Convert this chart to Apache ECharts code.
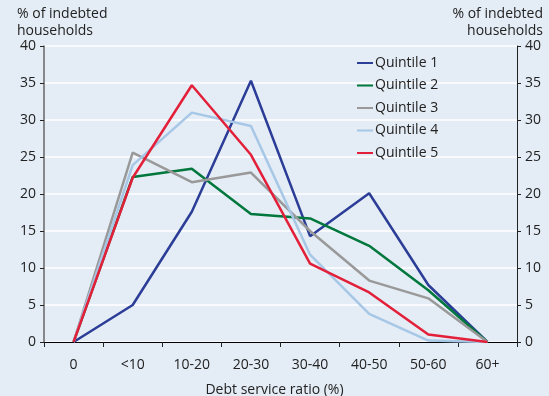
<!DOCTYPE html>
<html><head><meta charset="utf-8">
<script src="https://cdn.jsdelivr.net/npm/echarts@6/dist/echarts.min.js"></script>
<style>html,body{margin:0;padding:0;background:#e4ecf5;overflow:hidden;}#c{width:549px;height:396px;}</style>
</head><body><div id="c"></div>
<script>
const categories = ['0', '<10', '10-20', '20-30', '30-40', '40-50', '50-60', '60+'];
const quintile1 = [0, 5.0, 17.6, 35.3, 14.3, 20.1, 7.7, 0];
const quintile2 = [0, 22.3, 23.4, 17.3, 16.7, 13.0, 7.0, 0];
const quintile3 = [0, 25.6, 21.6, 22.9, 15.0, 8.3, 5.9, 0];
const quintile4 = [0, 23.9, 31.0, 29.2, 11.8, 3.8, 0.2, 0];
const quintile5 = [0, 22.2, 34.7, 25.3, 10.6, 6.7, 1.0, 0];
const seriesNames = ['Quintile 1', 'Quintile 2', 'Quintile 3', 'Quintile 4', 'Quintile 5'];
const colors = ['#2b3d97', '#00773c', '#999999', '#a7c7e7', '#e3203a'];
const allData = [quintile1, quintile2, quintile3, quintile4, quintile5];
const FONT = '"Open Sans", "Noto Sans", sans-serif';
const chart = echarts.init(document.getElementById('c'), null, {renderer: 'canvas', width: 549, height: 396});
const yAxisBase = {
  type: 'value', min: 0, max: 40, interval: 5,
  axisLine: {show: true, lineStyle: {color: '#222', width: 1}},
  axisTick: {show: true, inside: false, length: 4, lineStyle: {color: '#222'}},
  axisLabel: {color: '#222', fontSize: 14, fontFamily: FONT, margin: 8},
  splitLine: {show: true, lineStyle: {color: '#ffffff', width: 1.5}}
};
chart.setOption({
  backgroundColor: '#e4ecf5',
  animation: false,
  grid: {left: 44, right: 32, top: 46, bottom: 54, containLabel: false, outerBoundsMode: 'none'},
  legend: {
    orient: 'vertical', left: 352, top: 51, itemGap: 8.5,
    itemWidth: 16, itemHeight: 14, icon: 'path://M0,6L16,6L16,8L0,8Z',
    textStyle: {color: '#222', fontSize: 14, fontFamily: FONT, padding: [0,0,0,-3]},
    data: seriesNames
  },
  xAxis: {
    type: 'category', data: categories, boundaryGap: true,
    axisLine: {lineStyle: {color: '#000', width: 1.2}},
    axisTick: {show: true, length: 5, alignWithLabel: false, lineStyle: {color: '#222'}},
    axisLabel: {color: '#222', fontSize: 14, fontFamily: FONT, margin: 16},
    name: 'Debt service ratio (%)', nameLocation: 'middle', nameGap: 41,
    nameTextStyle: {color: '#222', fontSize: 14, fontFamily: FONT, padding: [0, 12, 0, 0]}
  },
  yAxis: [
    Object.assign({}, yAxisBase, {position: 'left', axisLine: {show: true, lineStyle: {color: '#666', width: 1.5}}}),
    Object.assign({}, yAxisBase, {position: 'right', splitLine: {show: false}})
  ],
  graphic: [
    {type: 'text', left: 17, top: 6, style: {text: '% of indebted\nhouseholds', fill: '#222', font: '14px ' + FONT, lineHeight: 17}},
    {type: 'text', right: 6, top: 6, style: {text: '% of indebted\nhouseholds', fill: '#222', font: '14px ' + FONT, lineHeight: 17, textAlign: 'right'}}
  ],
  series: seriesNames.map((n, i) => ({
    name: n, type: 'line', data: allData[i], symbol: 'none',
    lineStyle: {color: colors[i], width: 2.5}, itemStyle: {color: colors[i]}
  }))
});
</script></body></html>
